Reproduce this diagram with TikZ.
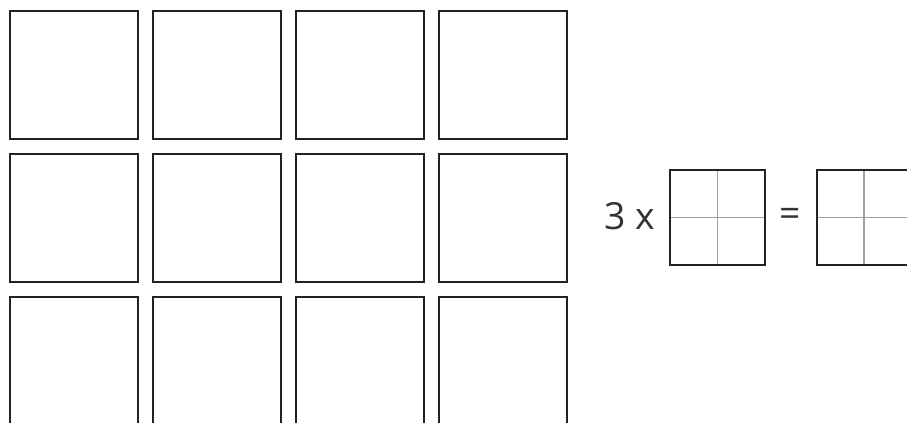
\documentclass[tikz,border=0pt]{standalone}
\usepackage{fontspec}
\setmainfont{Open Sans}
\definecolor{ink}{HTML}{222222}
\definecolor{txt}{HTML}{333333}
\definecolor{thin}{HTML}{A0A0A0}
\begin{document}
\begin{tikzpicture}[x=0.75pt,y=-0.75pt,
  sq/.style={draw=ink,line width=1.9pt},
  gridline/.style={draw=thin,line width=0.8pt},
  lbl/.style={text=txt,font=\fontsize{28}{32}\selectfont,inner sep=0pt}]
\useasboundingbox (0,0) rectangle (907,423);
\clip (0,0) rectangle (907,423);
\fill[white] (0,0) rectangle (907,423);
\foreach \c in {0,1,2,3}{
  \foreach \r in {0,1,2}{
    \draw[sq] ({10+143*\c},{11+143*\r}) rectangle ++(128,128);
  }
}
\node[lbl,anchor=base] (three) at (630,230) {3 x};
% first small box
\draw[gridline] (717.5,170) -- (717.5,265);
\draw[gridline] (670,217.5) -- (765,217.5);
\draw[sq] (670,170) rectangle (765,265);
\node[lbl,anchor=center] (eq) at (790,217) {=};
% second small box
\draw[gridline] (864,170) -- (864,265);
\draw[gridline] (817,217.5) -- (912,217.5);
\draw[sq] (817,170) rectangle (912,265);
\end{tikzpicture}
\end{document}
